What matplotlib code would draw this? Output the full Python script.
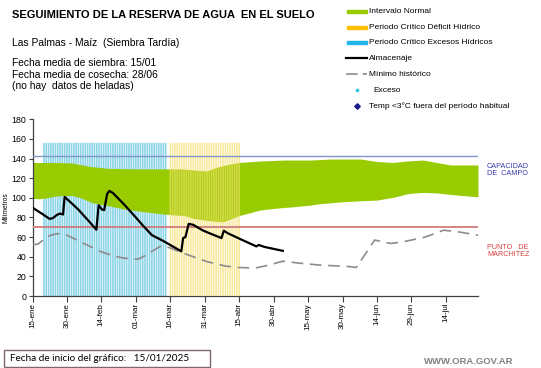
import matplotlib
matplotlib.use("Agg")
import matplotlib.pyplot as plt
import numpy as np
from matplotlib.patches import Rectangle
from matplotlib.lines import Line2D

plt.rcParams['font.family'] = ['Liberation Sans', 'DejaVu Sans']

# days counted from 15-ene
band_days_up = [0, 10, 17, 25, 33, 45, 55, 65, 72, 76, 80, 85, 90, 99, 110, 121, 130,
                143, 150, 157, 163, 170, 176, 182, 194]
band_upper = [136, 136, 135.5, 132, 130, 129.5, 129.5, 129.5, 128, 127.5, 131, 134, 136,
              137.5, 138.5, 138.5, 139.5, 139.5, 137, 136, 137.5, 138.5, 136, 133.5, 133.5]
band_days_lo = [0, 3, 6, 11, 17, 21, 26, 33, 40, 48, 55, 62, 66, 70, 76, 80, 83, 87, 90,
                95, 99, 106, 114, 121, 125, 135, 143, 150, 157, 164, 170, 176, 184, 194]
band_lower = [99.5, 99, 100, 102, 102.5, 100, 95, 92, 88.5, 86, 84, 82.5, 82, 79, 77, 76,
              75.6, 79, 82, 85, 87.5, 89.5, 91, 92.6, 94, 96, 97, 97.7, 100.5, 104.5, 105.5,
              105, 103, 101]

alm_days = [0, 4, 7.5, 9, 10.5, 12, 13.3, 14, 20, 25, 27.8, 28.8, 30.3, 31.2, 32.5, 33.5,
            35, 40, 45, 48, 52, 57, 64.8, 65.6, 66.6, 68, 70, 74, 77, 82.3, 83.3, 85, 90,
            97.5, 98.5, 101, 109]
almacenaje = [90, 84, 78.5, 79.5, 82.5, 84, 83, 101, 88, 75, 67.5, 92.5, 88, 87.5, 104, 107,
              105, 93, 80, 72, 62, 56, 45.5, 59, 60, 73.5, 72.5, 67, 64, 59, 66.5, 64, 58.5,
              50.5, 52, 50, 46]

min_days = [0, 2.5, 5.5, 8, 11, 15, 21, 30, 35, 40, 46, 49, 52, 56, 60, 64, 70, 76, 84, 90,
            97, 103, 109, 116, 125, 138, 141, 149, 156, 161, 171, 179, 185, 194]
minimo = [52, 53, 59, 62, 63.5, 62, 55, 45, 41, 38.5, 37.5, 41, 45.5, 51, 49, 45, 40, 35,
          30.5, 29, 28.5, 31.5, 35.5, 33.5, 31.5, 30, 29, 57, 53.5, 55, 60, 67, 65.5, 62]

exceso_days = list(range(5, 59))
deficit_days = list(range(60, 91))
periodo_top = 156

capacidad = 143
marchitez = 70.5

tick_days = list(range(0, 181, 15))
tick_labels = ['15-ene', '30-ene', '14-feb', '01-mar', '16-mar', '31-mar', '15-abr',
               '30-abr', '15-may', '30-may', '14-jun', '29-jun', '14-jul']

W, H = 541, 368
fig = plt.figure(figsize=(W / 100, H / 100), dpi=100)


def fx(px):
    return px / W


def fy(py):
    return 1 - py / H


ax = fig.add_axes([fx(32.5), fy(296), fx(478) - fx(32.5), fy(119.3) - fy(296)])

# band edges on a shared grid
grid = np.union1d(band_days_up, band_days_lo)
up = np.interp(grid, band_days_up, band_upper)
lo = np.interp(grid, band_days_lo, band_lower)

green = '#99cc00'
ax.bar(exceso_days, [periodo_top] * len(exceso_days), width=0.72, color='#8cd4e8',
       linewidth=0, zorder=1, snap=False)
ax.fill_between(grid, up, lo, color=green, linewidth=0, zorder=2)
ax.bar(deficit_days, [periodo_top] * len(deficit_days), width=0.72, color='#f5e070',
       alpha=0.65, linewidth=0, zorder=3, snap=False)

ax.axhline(capacidad, color='#8296c8', lw=1.0, zorder=4)
ax.axhline(marchitez, color='#d27c7c', lw=1.3, zorder=4)

ax.plot(min_days, minimo, color='#8c8c8c', lw=1.2, dashes=(7, 4), zorder=5)
ax.plot(alm_days, almacenaje, color='black', lw=1.6, zorder=6)

ax.set_xlim(0, 194)
ax.set_ylim(0, 180)
ax.set_yticks(range(0, 181, 20))
ax.set_xticks(tick_days)
ax.set_xticklabels(tick_labels, rotation=90, fontsize=5.8)
ax.tick_params(axis='y', labelsize=6.3, length=3, pad=1.5, color='#404040')
ax.tick_params(axis='x', length=4, pad=1, color='#404040')
for s in ['top', 'right']:
    ax.spines[s].set_visible(False)
for s in ['left', 'bottom']:
    ax.spines[s].set_color('#404040')
    ax.spines[s].set_linewidth(0.9)
ax.set_ylabel('Milímetros', fontsize=4.8, labelpad=1)

# texts on the right of the plot
fig.text(fx(487), fy(170), 'CAPACIDAD\nDE  CAMPO', fontsize=5.2, color='#3a3ab0',
         va='center', linespacing=1.15)
fig.text(fx(487), fy(251), 'PUNTO   DE\nMARCHITEZ', fontsize=5.2, color='#d84040',
         va='center', linespacing=1.15)

# header texts
fig.text(fx(12), fy(15.5), 'SEGUIMIENTO DE LA RESERVA DE AGUA  EN EL SUELO',
         fontsize=8, fontweight='bold', va='center')
fig.text(fx(12), fy(43.5), 'Las Palmas - Maíz  (Siembra Tardía)', fontsize=7.4, va='center')
fig.text(fx(12), fy(63), 'Fecha media de siembra: 15/01', fontsize=7.4, va='center')
fig.text(fx(12), fy(74.5), 'Fecha media de cosecha: 28/06', fontsize=7.4, va='center')
fig.text(fx(12), fy(86), '(no hay  datos de heladas)', fontsize=7.4, va='center')

# legend drawn by hand
leg_y = [11.7, 27.3, 42.7, 58.3, 74, 90, 106]
patch_items = [('Intervalo Normal', green), ('Periodo Crítico Déficit Hídrico', '#ffc000'),
               ('Periodo Crítico Excesos Hídricos', '#1fb4ea')]
for (label, col), yy in zip(patch_items, leg_y[:3]):
    fig.patches.append(Rectangle((fx(347), fy(yy + 1.7)), fx(367) - fx(347),
                                 fy(yy - 1.7) - fy(yy + 1.7), color=col,
                                 transform=fig.transFigure))
    fig.text(fx(369), fy(yy), label, fontsize=6, va='center')
fig.lines.append(Line2D([fx(346), fx(367)], [fy(leg_y[3])] * 2, color='black', lw=1.6,
                        transform=fig.transFigure))
fig.text(fx(369), fy(leg_y[3]), 'Almacenaje', fontsize=6, va='center')
fig.lines.append(Line2D([fx(346), fx(367)], [fy(leg_y[4])] * 2, color='#8c8c8c', lw=1.2,
                        dashes=(7, 3), transform=fig.transFigure))
fig.text(fx(369), fy(leg_y[4]), 'Mínimo histórico', fontsize=6, va='center')
fig.lines.append(Line2D([fx(356.7)], [fy(leg_y[5])], marker='s', ms=2, color='#33c4e8',
                        lw=0, transform=fig.transFigure))
fig.text(fx(373), fy(leg_y[5]), 'Exceso', fontsize=6, va='center')
fig.lines.append(Line2D([fx(357.3)], [fy(leg_y[6])], marker='D', ms=2.8, color='#1a1a90',
                        lw=0, transform=fig.transFigure))
fig.text(fx(369), fy(leg_y[6]), 'Temp <3°C fuera del período habitual', fontsize=6,
         va='center')

# footer
fig.patches.append(Rectangle((fx(4), fy(367)), fx(210) - fx(4), fy(350) - fy(367),
                             fill=False, edgecolor='#806868', lw=1,
                             transform=fig.transFigure))
fig.text(fx(10), fy(358.5), 'Fecha de inicio del gráfico:   15/01/2025', fontsize=7.2,
         va='center', family=['Lato', 'DejaVu Sans'])
fig.text(fx(424), fy(362), 'WWW.ORA.GOV.AR', fontsize=6.8, color='#808080',
         fontweight='bold', va='center')

fig.savefig('out.png', dpi=100)
